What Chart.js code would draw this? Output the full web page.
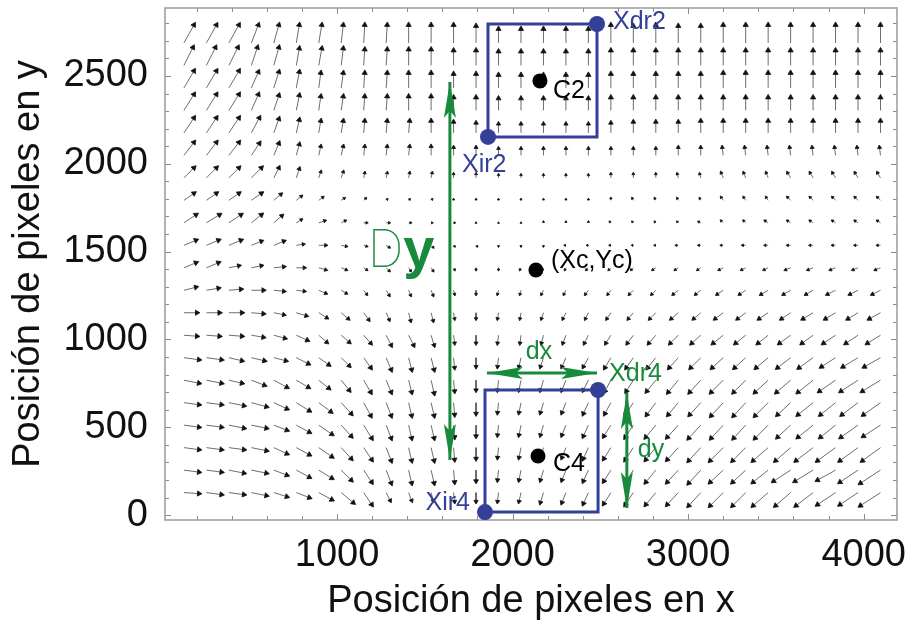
<!DOCTYPE html>
<html>
<head>
<meta charset="utf-8">
<script src="https://cdn.jsdelivr.net/npm/chart.js@4.4.1/dist/chart.umd.min.js"></script>
<style>
  html, body { margin: 0; padding: 0; background: #ffffff; }
  #wrap { width: 907px; height: 625px; }
</style>
</head>
<body>
<div id="wrap"><canvas id="c" width="907" height="625"></canvas></div>
<script>
// Sampling grid of the displacement field (pixel positions on the sensor)
const GRID_X = [128, 256, 384, 512, 640, 768, 896, 1024, 1152, 1280, 1408, 1536, 1664, 1792, 1920, 2048,
                2176, 2304, 2432, 2560, 2688, 2816, 2944, 3072, 3200, 3328, 3456, 3584, 3712, 3840, 3968, 4096];
const GRID_Y = [128, 256, 384, 512, 640, 768, 896, 1024, 1152, 1280, 1408, 1536, 1664, 1792, 1920, 2048,
                2176, 2304, 2432, 2560, 2688];

// Displacement components, one row per GRID_Y entry (bottom row first)
const FIELD_U = [
  [15,15,15,15,13,13,13,12,8,4,3,2, 1,0,-1,-2,-3,-4,-5,-7, -8,-10,-11,-12, -13,-13,-15,-15,-17,-18,-18,-20],
  [15,15,15,15,13,13,13,10,8,5,3,3, 1,0,-1,-2,-3,-4,-5,-7, -8,-10,-11,-12, -13,-13,-15,-17,-18,-18,-18,-20],
  [15,15,15,15,13,13,13,10,8,5,3,3, 1,0,-1,-2,-3,-4,-5,-7, -8,-10,-11,-12, -13,-13,-15,-15,-17,-18,-18,-18],
  [15,15,15,15,13,13,13,10,8,5,3,3, 1,0,-1,-2,-3,-4,-5,-7, -8,-10,-11,-12, -12,-12,-13,-13,-15,-15,-17,-17],
  [15,15,15,15,13,13,12,10,7,5,3,3, 1,0,-1,-2,-3,-4,-5,-6, -8,-9,-10,-11, -12,-12,-13,-13,-15,-15,-16,-17],
  [15,15,13,13,13,12,10,8,7,5,3,3, 1,0,-1,-2,-3,-4,-5,-6, -7,-9,-10,-11, -12,-12,-13,-14,-15,-16,-17,-18],
  [15,15,13,13,12,12,10,8,7,5,3,3, 1,0,-1,-2,-3,-4,-5,-6, -7,-8,-9,-10, -11,-11,-12,-13,-14,-14,-15,-16],
  [13,13,13,12,11,11,8,8,7,5,5,3, 1,0,-1,-1,-2,-3,-4,-5, -6,-7,-8,-9, -10,-10,-10,-11,-11,-12,-12,-13],
  [13,13,13,12,10,10,8,7,5,3,2,2, 1,0,-1,-1,-2,-3,-3,-4, -5,-6,-7,-7, -8,-8,-9,-9,-10,-10,-10,-11],
  [12,12,12,12,10,8,7,5,3,3,2,2, 1,0,-1,-1,-2,-2,-3,-3, -4,-4,-5,-5, -6,-6,-7,-7,-7,-8,-8,-8],
  [12,12,10,10,10,8,7,5,3,3,2,2, 1,0,0,-1,-1,-1,-2,-2, -2,-3,-3,-3, -4,-4,-4,-5,-5,-5,-5,-5],
  [12,12,12,10,10,7,7,5,3,3,2,2, 1,1,0,0,0,-1,-1,-1, -1,-1,-2,-2, -2,-3,-3,-3,-3,-3,-3,-3],
  [12,13,12,10,8,5,6,4,3,3,2,1, 1,0,0,0,0,0,0,-1, -1,-1,-1,-2, -2,-2,-3,-3,-3,-3,-3,-3],
  [10,10,10,10,7,5,4,3,2,1,1,1, 0,0,0,0,0,0,0,0, -1,-1,-1,-1, -2,-2,-2,-3,-3,-3,-3,-3],
  [10,10,10,10,5,3,2,2,1,1,1,1, 0,0,0,0,0,0,0,0, 0,0,-1,-1, -2,-2,-2,-3,-3,-3,-3,-3],
  [10,10,10,8,5,3,2,2,1,1,1,0, 0,0,0,0,0,0,0,0, 0,0,0,0, -1,-1,-1,-1,-1,-1,-1,-1],
  [10,10,10,8,5,3,2,2,1,1,1,0, 0,0,0,0,0,0,0,0, 0,0,0,0, 0,0,0,0,0,0,0,0],
  [10,10,10,7,5,3,2,2,1,1,0,0, 0,0,0,0,0,0,0,0, 0,0,0,0, 0,0,0,0,0,0,0,0],
  [10,10,10,7,5,3,2,2,1,1,0,0, 0,0,0,0,0,0,0,0, 0,0,0,0, 0,0,0,0,0,0,0,0],
  [9,9,9,6,5,3,3,2,1,1,0,0, 0,0,0,0,0,0,0,0, 0,0,0,0, 0,0,0,0,0,0,0,0],
  [10,10,10,7,5,3,3,2,1,1,0,0, 0,0,0,0,0,0,0,0, 0,0,0,0, 0,0,0,0,0,0,0,0]
];
const FIELD_V = [
  [-1,-2,-2,-3,-4,-5,-7,-10,-12,-8,-8,-8, -9,-9,-9,-9,-10,-10,-11,-11, -12,-12,-12,-13, -13,-13,-13,-13,-13,-12,-12,-13],
  [-2,-2,-3,-3,-5,-7,-8,-10,-12,-13,-13,-13, -12,-11,-10,-10,-10,-10,-11,-11, -12,-12,-12,-13, -12,-12,-12,-11,-11,-10,-12,-13],
  [-2,-2,-2,-3,-6,-7,-9,-11,-12,-13,-13,-13, -12,-11,-10,-10,-10,-10,-11,-11, -12,-12,-12,-13, -13,-13,-13,-13,-13,-13,-13,-13],
  [-2,-2,-3,-3,-5,-7,-9,-11,-13,-13,-13,-13, -12,-11,-10,-10,-10,-10,-11,-11, -12,-12,-12,-13, -13,-13,-13,-12,-12,-12,-12,-11],
  [-2,-2,-3,-4,-6,-8,-9,-11,-13,-13,-13,-13, -12,-11,-10,-10,-10,-10,-11,-11, -12,-12,-12,-12, -13,-13,-13,-12,-12,-12,-12,-12],
  [-3,-3,-3,-5,-7,-7,-8,-10,-12,-12,-12,-13, -11,-10,-10,-10,-10,-10,-10,-11, -11,-11,-12,-12, -12,-12,-12,-12,-12,-11,-11,-11],
  [-2,-2,-3,-3,-3,-6,-7,-8,-10,-12,-12,-12, -10,-9,-9,-9,-9,-9,-9,-10, -10,-10,-10,-10, -10,-10,-10,-10,-10,-9,-9,-9],
  [-1,-1,-1,-2,-3,-5,-7,-7,-8,-10,-10,-10, -8,-8,-8,-8,-8,-8,-8,-8, -8,-8,-8,-8, -8,-8,-8,-8,-8,-8,-8,-8],
  [0,0,0,-1,-2,-3,-5,-6,-7,-7,-8,-8, -6,-6,-6,-6,-6,-6,-6,-6, -6,-6,-6,-6, -6,-6,-6,-6,-6,-6,-6,-6],
  [3,2,1,0,-1,-1,-3,-3,-4,-5,-5,-5, -4,-4,-4,-4,-4,-4,-4,-4, -4,-4,-4,-4, -4,-4,-4,-4,-4,-4,-4,-4],
  [5,5,2,2,1,0,-2,-2,-2,-3,-3,-3, -2,-2,-2,-2,-2,-2,-2,-2, -2,-2,-2,-2, -2,-2,-2,-2,-2,-2,-2,-2],
  [5,5,5,4,4,1,0,-1,-1,-2,-2,-2, -1,-1,-1,-1,-1,0,0,0, 0,0,0,0, 0,0,0,0,0,0,0,0],
  [8,8,8,8,7,3,2,2,0,0,0,0, 0,0,0,0,1,1,1,1, 1,1,1,1, 2,2,2,2,2,2,2,2],
  [7,7,7,7,6,4,3,2,2,1,1,1, 1,1,1,1,1,1,1,2, 2,2,2,2, 3,3,3,3,3,3,3,3],
  [10,10,10,10,10,9,6,6,5,5,5,5, 4,4,3,3,3,3,3,4, 4,4,4,4, 5,5,5,5,5,5,5,5],
  [13,13,13,12,12,11,9,9,9,9,9,9, 8,8,7,7,7,7,7,7, 7,7,8,8, 8,8,8,8,8,8,8,8],
  [15,15,15,15,14,13,12,12,12,12,12,12, 11,10,9,9,9,9,9,10, 11,11,11,12, 12,12,12,12,12,12,12,12],
  [16,16,16,16,15,15,14,14,14,14,14,14, 13,13,12,12,12,12,12,13, 13,13,13,13, 13,13,13,13,13,13,13,13],
  [17,17,17,16,16,16,15,15,15,15,15,15, 14,14,13,13,13,13,13,14, 14,14,14,14, 15,15,15,15,15,15,15,15],
  [18,18,18,18,18,17,17,17,16,16,16,16, 15,15,14,14,14,14,14,15, 15,15,15,15, 15,15,15,15,15,15,15,15],
  [18,18,18,18,18,18,18,18,18,18,18,18, 18,17,14,14,14,14,14,18, 17,18,17,17, 18,18,18,18,18,18,18,18]
];

// Reference points (x, y) in sensor pixels
const XIR2 = [1860, 2153];
const XDR2 = [2481, 2796];
const XIR4 = [1843, 17];
const XDR4 = [2487, 712];
const C2 = [2156, 2472];
const C4 = [2145, 336];
const XC_YC = [2133, 1395];

// Dimension arrows: [x0, y0, x1, y1]
const DY_ARROW = [1643, 313, 1643, 2466];
const DX_ARROW = [1854, 809, 2481, 809];
const DY_SMALL = [2651, 40, 2651, 695];

// Axis ticks
const X_TICK_LABELS = [1000, 2000, 3000, 4000];
const Y_TICK_LABELS = [0, 500, 1000, 1500, 2000, 2500];
const X_MINOR_STEP = 200;
const Y_MINOR_STEP = 100;

const QUIVER_SCALE = 5.7;   // sensor pixels drawn per displacement unit

const BLUE = '#343f98';
const GREEN = '#188a3c';
const FONT = '"Liberation Sans", Arial, Helvetica, sans-serif';
const AXIS_FONT_SIZE = 38;

// ---- build quiver shafts and heads ----
const shafts = [], heads = [], headRot = [], headRad = [];
GRID_Y.forEach((y, j) => {
  GRID_X.forEach((x, k) => {
    const u = FIELD_U[j][k], v = FIELD_V[j][k];
    const x2 = x + u * QUIVER_SCALE, y2 = y + v * QUIVER_SCALE;
    shafts.push({x: x, y: y}, {x: x2, y: y2}, {x: x2, y: null});
    heads.push({x: x2, y: y2});
    headRot.push(Math.atan2(u, v) * 180 / Math.PI);
    const len = Math.hypot(u, v);
    headRad.push(Math.min(3, 1.1 + len * 0.15));
  });
});

function boxPath(a, b) {
  return [
    {x: a[0], y: a[1]}, {x: b[0], y: a[1]}, {x: b[0], y: b[1]}, {x: a[0], y: b[1]}, {x: a[0], y: a[1]}
  ];
}
function seg(s) { return [{x: s[0], y: s[1]}, {x: s[2], y: s[3]}]; }

// ---- frame with inward ticks on all four sides ----
const frameTicks = {
  id: 'frameTicks',
  beforeDatasetsDraw(chart) {
    const {ctx, chartArea: a, scales: {x, y}} = chart;
    ctx.save();
    ctx.strokeStyle = '#8c8c8c';
    ctx.lineWidth = 1;
    ctx.beginPath();
    x.ticks.forEach(t => {
      if (t.value % X_MINOR_STEP !== 0) return;
      const px = Math.round(x.getPixelForValue(t.value)) + 0.5;
      const L = X_TICK_LABELS.includes(t.value) ? 6 : 4;
      ctx.moveTo(px, a.bottom); ctx.lineTo(px, a.bottom - L);
      ctx.moveTo(px, a.top); ctx.lineTo(px, a.top + L);
    });
    y.ticks.forEach(t => {
      if (t.value % Y_MINOR_STEP !== 0) return;
      const py = Math.round(y.getPixelForValue(t.value)) + 0.5;
      const L = Y_TICK_LABELS.includes(t.value) ? 6 : 4;
      ctx.moveTo(a.left, py); ctx.lineTo(a.left + L, py);
      ctx.moveTo(a.right, py); ctx.lineTo(a.right - L, py);
    });
    ctx.stroke();
    ctx.strokeStyle = '#9a9a9a';
    ctx.lineWidth = 1.5;
    ctx.strokeRect(a.left, a.top, a.right - a.left, a.bottom - a.top);
    ctx.restore();
  }
};

// ---- green arrowheads and annotation text ----
function arrowHead(ctx, tx, ty, fx, fy) {
  const dx = tx - fx, dy = ty - fy, d = Math.hypot(dx, dy);
  const ux = dx / d, uy = dy / d, nx = -uy, ny = ux;
  const L = 36, W = 6;
  ctx.beginPath();
  ctx.moveTo(tx, ty);
  ctx.lineTo(tx - ux * L + nx * W, ty - uy * L + ny * W);
  ctx.lineTo(tx - ux * L * 0.8, ty - uy * L * 0.8);
  ctx.lineTo(tx - ux * L - nx * W, ty - uy * L - ny * W);
  ctx.closePath();
  ctx.fill();
}

const annotations = {
  id: 'annotations',
  afterDatasetsDraw(chart) {
    const {ctx, scales: {x, y}} = chart;
    const P = p => [x.getPixelForValue(p[0]), y.getPixelForValue(p[1])];
    ctx.save();
    ctx.fillStyle = GREEN;
    [DY_ARROW, DX_ARROW, DY_SMALL].forEach(s => {
      const a = P([s[0], s[1]]), b = P([s[2], s[3]]);
      arrowHead(ctx, a[0], a[1], b[0], b[1]);
      arrowHead(ctx, b[0], b[1], a[0], a[1]);
    });

    const text = (str, anchor, ox, oy, color, align, font) => {
      const p = P(anchor);
      ctx.font = font || ('25px ' + FONT);
      ctx.fillStyle = color;
      ctx.textAlign = align || 'left';
      ctx.textBaseline = 'middle';
      ctx.fillText(str, p[0] + ox, p[1] + oy);
    };
    text('Xdr2', XDR2, 16, -2, BLUE);
    text('C2', C2, 13, 10, '#000');
    text('Xir2', XIR2, -26, 28, BLUE);
    text('(Xc,Yc)', XC_YC, 15, -9, '#000');
    text('C4', C4, 15, 8, '#000');
    text('Xir4', XIR4, -15, -9, BLUE, 'right');
    text('Xdr4', XDR4, 11, -16, GREEN);
    const dxMid = [(DX_ARROW[0] + DX_ARROW[2]) / 2, DX_ARROW[1]];
    text('dx', dxMid, -3, -21, GREEN, 'center');
    const dyMid = [DY_SMALL[0], (DY_SMALL[1] + DY_SMALL[3]) / 2];
    text('dy', dyMid, 11, 0, GREEN);

    // "Dy" label beside the long vertical arrow
    const dyBig = P([DY_ARROW[0], (DY_ARROW[1] + DY_ARROW[3]) / 2]);
    ctx.textAlign = 'left';
    ctx.textBaseline = 'alphabetic';
    ctx.fillStyle = GREEN;
    ctx.font = '100 54px Roboto, ' + FONT;
    const dW = ctx.measureText('D').width;
    const bx = dyBig[0] - 82, by = dyBig[1] - 4;
    ctx.fillText('D', bx, by);
    ctx.font = 'bold 56px ' + FONT;
    ctx.fillText('y', bx + dW, by);
    ctx.restore();
  }
};

const chart = new Chart(document.getElementById('c'), {
  type: 'scatter',
  data: {
    datasets: [
      { // quiver shafts
        data: shafts, showLine: true, spanGaps: false, pointRadius: 0,
        borderColor: 'rgba(60,60,60,0.75)', borderWidth: 1, order: 6
      },
      { // quiver heads
        data: heads, showLine: false, pointStyle: 'triangle', pointRotation: headRot,
        pointRadius: headRad, backgroundColor: '#111', borderColor: '#111', borderWidth: 0.8, order: 5
      },
      { data: boxPath(XIR2, XDR2), showLine: true, pointRadius: 0, borderColor: BLUE, borderWidth: 3, order: 4 },
      { data: boxPath(XIR4, XDR4), showLine: true, pointRadius: 0, borderColor: BLUE, borderWidth: 3, order: 4 },
      { data: seg(DY_ARROW), showLine: true, pointRadius: 0, borderColor: GREEN, borderWidth: 3, order: 3 },
      { data: seg(DX_ARROW), showLine: true, pointRadius: 0, borderColor: GREEN, borderWidth: 3, order: 3 },
      { data: seg(DY_SMALL), showLine: true, pointRadius: 0, borderColor: GREEN, borderWidth: 3, order: 3 },
      { // corner points
        data: [XIR2, XDR2, XIR4, XDR4].map(p => ({x: p[0], y: p[1]})),
        pointRadius: 8, backgroundColor: BLUE, borderWidth: 0, order: 2
      },
      { // centres
        data: [C2, C4, XC_YC].map(p => ({x: p[0], y: p[1]})),
        pointRadius: 7.5, backgroundColor: '#000', borderWidth: 0, order: 1
      }
    ]
  },
  options: {
    responsive: false,
    animation: false,
    events: [],
    layout: { padding: { left: 0, right: 10, top: 8, bottom: 0 } },
    plugins: { legend: { display: false }, tooltip: { enabled: false } },
    scales: {
      x: {
        type: 'linear', min: 20, max: 4190,
        afterFit: s => { s.height = 105; s.paddingLeft = 0; s.paddingRight = 0; },
        afterBuildTicks: s => {
          const t = [];
          for (let v = X_MINOR_STEP; v <= s.max; v += X_MINOR_STEP) t.push({value: v});
          s.ticks = t;
        },
        ticks: {
          autoSkip: false, maxRotation: 0, minRotation: 0, padding: 13, color: '#111',
          font: { family: FONT, size: AXIS_FONT_SIZE },
          callback: v => X_TICK_LABELS.includes(v) ? String(v) : ''
        },
        grid: { display: false, drawTicks: false },
        border: { display: false },
        title: {
          display: true, text: 'Posición de pixeles en x', color: '#111',
          font: { family: FONT, size: AXIS_FONT_SIZE }, padding: { top: 0, bottom: 1 }
        }
      },
      y: {
        type: 'linear', min: -28, max: 2887,
        afterFit: s => { s.width = 165; s.paddingTop = 0; s.paddingBottom = 0; },
        afterBuildTicks: s => {
          const t = [];
          for (let v = 0; v <= s.max; v += Y_MINOR_STEP) t.push({value: v});
          s.ticks = t;
        },
        ticks: {
          autoSkip: false, padding: 17, color: '#111',
          font: { family: FONT, size: AXIS_FONT_SIZE },
          callback: v => Y_TICK_LABELS.includes(v) ? String(v) : ''
        },
        grid: { display: false, drawTicks: false },
        border: { display: false },
        title: {
          display: true, text: 'Posición de pixeles en y', color: '#111',
          font: { family: FONT, size: AXIS_FONT_SIZE }, padding: { top: 6, bottom: 0 }
        }
      }
    }
  },
  plugins: [frameTicks, annotations]
});
</script>
</body>
</html>
